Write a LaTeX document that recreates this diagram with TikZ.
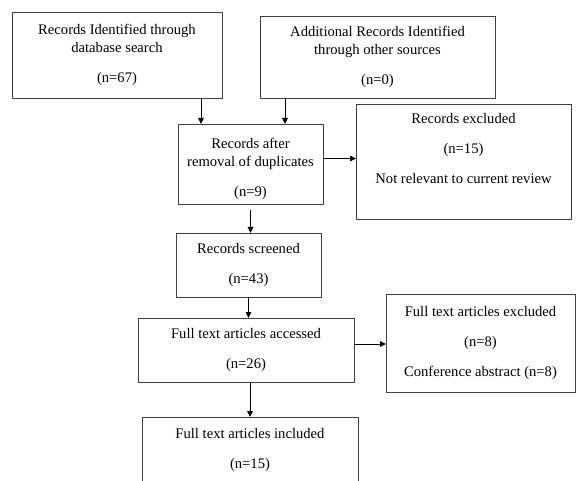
\documentclass[tikz,border=0pt]{standalone}
\usepackage{fontspec}
\setmainfont{Liberation Serif}
\usetikzlibrary{arrows.meta}
\tikzset{
  recbox/.style={draw=black!75, line width=0.7pt, anchor=north west, outer sep=0pt,
    align=center, font=\fontsize{10.4pt}{12.8pt}\selectfont},
  flow/.style={-{Triangle[length=0.15cm,width=0.14cm]}, line width=0.6pt}
}
\def\gap{\\[8.5pt]}

\begin{document}
\begin{tikzpicture}
 	\useasboundingbox (0,0) rectangle (14.4,12);
 	\clip (0,0) rectangle (14.4,12);
 	% identification
 	\node[recbox, minimum width=5.25cm, minimum height=2.15cm] (ident) at (0.3,11.7)
 	  {Records Identified through\\database search\gap(n=67)};
 	\node[recbox, minimum width=5.875cm, minimum height=2.05cm] (other) at (6.5,11.6)
 	  {Additional Records Identified\\through other sources\gap(n=0)};
 	% screening
 	\node[recbox, minimum width=3.625cm, minimum height=1.975cm] (dedup) at (4.45,8.9)
 	  {\rule{0pt}{14pt}Records after\\removal of duplicates\gap(n=9)};
 	\node[recbox, minimum width=5.375cm, minimum height=2.875cm] (excl) at (8.9,9.4)
 	  {Records excluded\gap(n=15)\gap Not relevant to current review\\[5.6pt]\mbox{}};
 	\node[recbox, minimum width=3.625cm, minimum height=1.6cm] (screen) at (4.4,6.175)
 	  {Records screened\gap(n=43)};
 	% eligibility
 	\node[recbox, minimum width=5.4cm, minimum height=1.6cm] (access) at (3.45,4.05)
 	  {Full text articles accessed\gap(n=26)};
 	\node[recbox, minimum width=4.725cm, minimum height=2.45cm] (fexcl) at (9.65,4.65)
 	  {Full text articles excluded\gap(n=8)\gap Conference abstract (n=8)};
 	% included
 	\node[recbox, minimum width=5.4cm, minimum height=1.9cm] (incl) at (3.55,1.575)
 	  {Full text articles included\gap(n=15)\\[-3pt]\mbox{}};
 	% arrows
 	\draw[flow] ([xshift=2.1cm]ident.south) -- ([xshift=2.1cm]ident.south |- dedup.north);
 	\draw[flow] ([xshift=-2.3125cm]other.south) -- ([xshift=-2.3125cm]other.south |- dedup.north);
 	\draw[flow] ([yshift=0.1375cm]dedup.east) -- ([yshift=0.1375cm]dedup.east -| excl.west);
 	\draw[flow, shorten <=0.15cm] (dedup.south) -- (dedup.south |- screen.north);
 	\draw[flow] (screen.south) -- (screen.south |- access.north);
 	\draw[flow] ([yshift=0.15cm]access.east) -- ([yshift=0.15cm]access.east -| fexcl.west);
 	\draw[flow] ([xshift=0.1cm]access.south) -- ([xshift=0.1cm]access.south |- incl.north);
\end{tikzpicture}
\end{document}
